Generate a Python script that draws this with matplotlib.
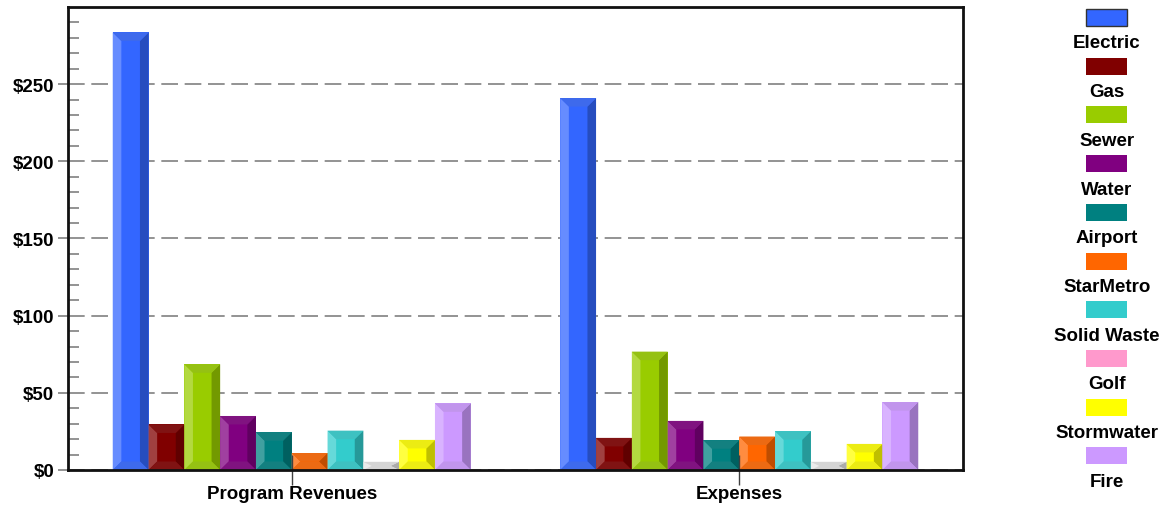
import matplotlib.pyplot as plt
from matplotlib.patches import Polygon, Rectangle
from matplotlib.colors import to_rgb
import numpy as np

plt.rcParams['font.family'] = ['Liberation Sans', 'DejaVu Sans']
plt.rcParams['font.weight'] = 'bold'

groups = ['Program Revenues', 'Expenses']
funds = ['Electric', 'Gas', 'Sewer', 'Water', 'Airport', 'StarMetro',
         'Solid Waste', 'Golf', 'Stormwater', 'Fire']
colors = ['#3366FF', '#800000', '#99CC00', '#800080', '#008080', '#FF6600',
          '#33CCCC', '#FF99CC', '#FFFF00', '#CC99FF']
# golf bars render as light grey in the original
bar_colors = colors[:7] + ['#E4E4E4'] + colors[8:]
revenues = [283.5, 29.5, 68.5, 35, 24.5, 11, 25.5, 5.3, 19.5, 43.2]
expenses = [241, 20.8, 76.7, 31.8, 19.3, 21.7, 25.2, 5.3, 16.9, 44]


def mix(c, other, t):
    c = np.array(to_rgb(c))
    return tuple(c * (1 - t) + np.array(other) * t)


def bevel(ax, rect, col):
    x0, y0 = rect.get_x(), rect.get_y()
    w, h = rect.get_width(), rect.get_height()
    dx = w * 0.24
    dy = min(5.5, h / 2)
    x1 = x0 + w
    y1 = y0 + h
    light = mix(col, (1, 1, 1), 0.25)
    dark = mix(col, (0, 0, 0), 0.25)
    mid = mix(col, (0.5, 0.5, 0.5), 0.15)
    shapes = [
        ([(x0, y0), (x0 + dx, y0 + dy), (x0 + dx, y1 - dy), (x0, y1)], light),
        ([(x1, y0), (x1 - dx, y0 + dy), (x1 - dx, y1 - dy), (x1, y1)], dark),
        ([(x0, y1), (x0 + dx, y1 - dy), (x1 - dx, y1 - dy), (x1, y1)], mid),
        ([(x0, y0), (x0 + dx, y0 + dy), (x1 - dx, y0 + dy), (x1, y0)], mid),
    ]
    for pts, c in shapes:
        ax.add_patch(Polygon(pts, closed=True, facecolor=c, edgecolor='none', zorder=3))


fig = plt.figure(figsize=(11.64, 5.06), dpi=100)
ax = fig.add_axes([68 / 1164, 1 - 471 / 506, 895 / 1164, 463 / 506])

x = np.arange(len(groups))
n = len(funds)
w = 0.8 / n
for i, name in enumerate(funds):
    vals = [revenues[i], expenses[i]]
    bars = ax.bar(x - 0.4 + w * (i + 0.5), vals, w, color=bar_colors[i], zorder=2)
    for b in bars:
        bevel(ax, b, bar_colors[i])

ax.set_xlim(-0.5, 1.5)
ax.set_ylim(0, 300)
ax.set_yticks(np.arange(0, 300, 50))
ax.set_yticklabels(['$' + str(v) for v in range(0, 300, 50)], fontsize=13.5, fontweight='bold')
ax.set_yticks(np.arange(0, 300, 10), minor=True)
ax.tick_params(axis='y', which='major', direction='out', length=7, color='#808080', width=1.2, pad=3)
ax.tick_params(axis='y', which='minor', direction='in', length=8, color='#808080', width=1.2)
ax.set_xticks(x)
ax.set_xticklabels(groups, fontsize=13.5, fontweight='bold')
ax.tick_params(axis='x', direction='inout', length=22, color='#404040', width=1, pad=0)
ax.yaxis.grid(True, which='major', color='#808080', linestyle=(0, (10, 4)), linewidth=1.2, zorder=0)
ax.set_axisbelow(True)
ax.xaxis.set_zorder(4)
for s in ax.spines.values():
    s.set_linewidth(2)
    s.set_color('#111111')
    s.set_zorder(5)

# legend: swatch above label
for i, name in enumerate(funds):
    top = 10 + i * 48.7
    fig.add_artist(Rectangle((1086 / 1164, 1 - (top + 17) / 506), 41 / 1164, 17 / 506,
                             transform=fig.transFigure, facecolor=colors[i],
                             edgecolor='#333333' if i == 0 else 'none', linewidth=1))
    fig.text(1107 / 1164, 1 - (top + 34) / 506, name, ha='center', va='center',
             fontsize=13.5, fontweight='bold')

fig.savefig('out.png', dpi=100)
